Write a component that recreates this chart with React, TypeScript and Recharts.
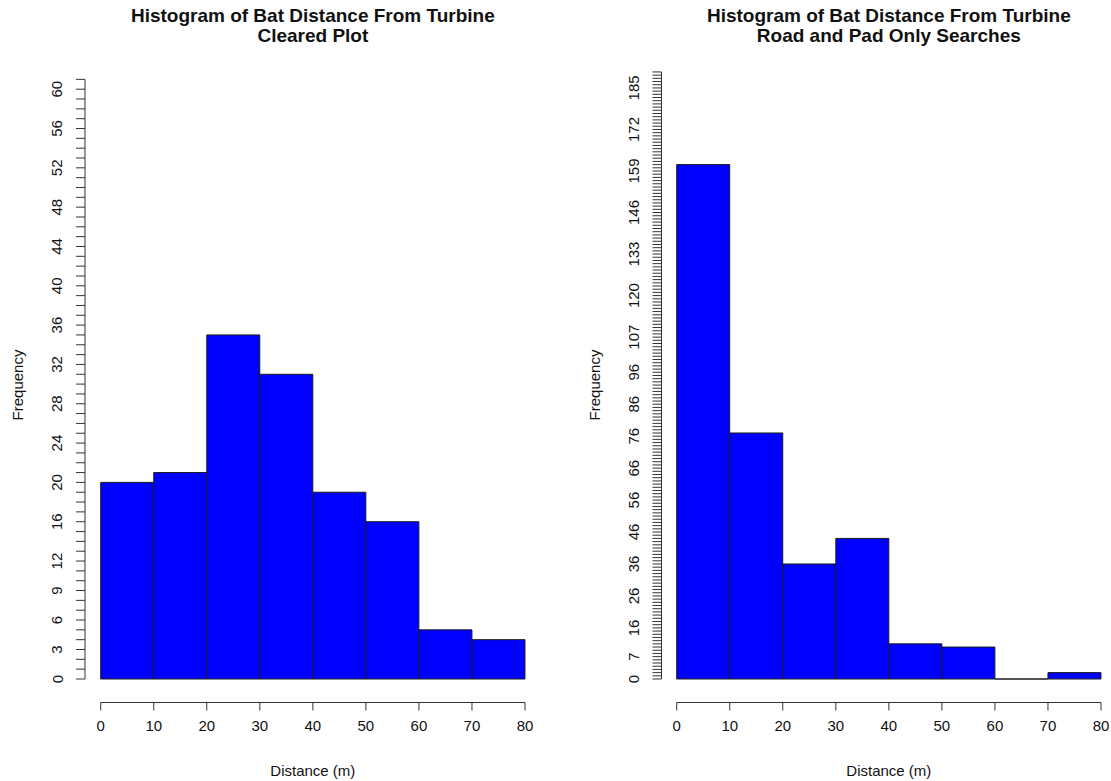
import React from "react";
import { Bar, ComposedChart, ReferenceLine, XAxis, YAxis } from "recharts";

// bins of 10 m, drawn at their centres on a numeric distance axis
const BIN_CENTERS = [5, 15, 25, 35, 45, 55, 65, 75];
const CLEARED_COUNTS = [20, 21, 35, 31, 19, 16, 5, 4];
const ROAD_PAD_COUNTS = [161, 77, 36, 44, 11, 10, 0, 2];

const X_TICKS = [0, 10, 20, 30, 40, 50, 60, 70, 80];
const CLEARED_Y_LABELS = [0, 3, 6, 9, 12, 16, 20, 24, 28, 32, 36, 40, 44, 48, 52, 56, 60];
const ROAD_PAD_Y_LABELS = [0, 7, 16, 26, 36, 46, 56, 66, 76, 86, 96, 107, 120, 133, 146, 159, 172, 185];

const TITLE = "Histogram of Bat Distance From Turbine";
const FONT = '"Liberation Sans", Arial, Helvetica, sans-serif';
const H = 781;
const Y_AXIS_W = 50;
const X_AXIS_H = 40;

type Panel = {
  subtitle: string;
  counts: number[];
  yLabels: number[];
  topTick: number;
  left: number; // panel left on page
  width: number;
  axisX: number; // y axis line on page
  x0: number; // pixel of distance 0
  x80: number; // pixel of distance 80
  y0: number; // pixel of frequency 0
  pxPerY: number;
};

const PANELS: Panel[] = [
  {
    subtitle: "Cleared Plot",
    counts: CLEARED_COUNTS,
    yLabels: CLEARED_Y_LABELS,
    topTick: 61,
    left: 0,
    width: 555,
    axisX: 85,
    x0: 100.7,
    x80: 525,
    y0: 679,
    pxPerY: 9.83,
  },
  {
    subtitle: "Road and Pad Only Searches",
    counts: ROAD_PAD_COUNTS,
    yLabels: ROAD_PAD_Y_LABELS,
    topTick: 190,
    left: 555,
    width: 556,
    axisX: 661.5,
    x0: 676.7,
    x80: 1101,
    y0: 679,
    pxPerY: 3.195,
  },
];

const X_AXIS_Y = 702.5;
const PLOT_TOP = 60;

function BinShape(props: any) {
  const { x, y, width, height } = props;
  if (x == null || width == null) return <g />;
  const h = height || 0;
  return (
    <path
      d={`M${x},${y}h${width}v${h}h${-width}Z`}
      fill="#0000ff"
      stroke="#1a1a1a"
      strokeWidth={1}
    />
  );
}

function HistPanel({ p }: { p: Panel }) {
  const sx = (p.x80 - p.x0) / 80;
  const plotRight = p.x80 + 6;
  const xMin = (p.axisX - p.x0) / sx;
  const xMax = (plotRight - p.x0) / sx;
  const yMin = -(X_AXIS_Y - p.y0) / p.pxPerY;
  const yMax = (p.y0 - PLOT_TOP) / p.pxPerY;

  const data = BIN_CENTERS.map((c, i) => ({ mid: c, count: p.counts[i] }));
  const yTicks = Array.from({ length: p.topTick + 1 }, (_, i) => i);
  const labelSet = new Set(p.yLabels);
  const labelX = p.axisX - p.left - 28;

  const renderYTick = (props: any) => {
    const v = props.payload?.value;
    if (!labelSet.has(v)) return <g />;
    const y = props.y;
    return (
      <text
        x={labelX}
        y={y}
        transform={`rotate(-90, ${labelX}, ${y})`}
        textAnchor="middle"
        dominantBaseline="central"
        fontSize={15}
        fontFamily={FONT}
        fill="#111"
      >
        {v}
      </text>
    );
  };

  const center = (p.x0 + p.x80) / 2 - p.left;

  return (
    <div style={{ position: "absolute", left: p.left, top: 0, width: p.width, height: H }}>
      <ComposedChart
        width={p.width}
        height={H}
        data={data}
        barCategoryGap={0}
        barGap={0}
        margin={{
          top: PLOT_TOP,
          left: p.axisX - p.left - Y_AXIS_W,
          right: p.left + p.width - plotRight,
          bottom: H - X_AXIS_Y - X_AXIS_H,
        }}
      >
        <XAxis
          dataKey="mid"
          type="number"
          domain={[xMin, xMax]}
          ticks={X_TICKS}
          interval={0}
          axisLine={false}
          tickSize={8}
          tickMargin={10}
          height={X_AXIS_H}
          tickLine={{ stroke: "#333" }}
          tick={{ fontSize: 15, fill: "#111", fontFamily: FONT }}
          allowDataOverflow
        />
        <YAxis
          type="number"
          domain={[yMin, yMax]}
          ticks={yTicks}
          interval={0}
          axisLine={false}
          tickSize={9}
          width={Y_AXIS_W}
          tickLine={{ stroke: "#333" }}
          tick={renderYTick}
          allowDataOverflow
        />
        <ReferenceLine
          segment={[
            { x: 0, y: yMin },
            { x: 80, y: yMin },
          ]}
          stroke="#333"
          ifOverflow="visible"
        />
        <ReferenceLine
          segment={[
            { x: xMin, y: 0 },
            { x: xMin, y: p.topTick },
          ]}
          stroke="#333"
          ifOverflow="visible"
        />
        <Bar dataKey="count" shape={BinShape} isAnimationActive={false} />
      </ComposedChart>

      <div
        style={{
          position: "absolute",
          left: center - 250,
          width: 500,
          top: 6,
          textAlign: "center",
          fontFamily: FONT,
          fontWeight: "bold",
          fontSize: 19,
          lineHeight: "20px",
          color: "#111",
        }}
      >
        {TITLE}
        <br />
        {p.subtitle}
      </div>
      <div
        style={{
          position: "absolute",
          left: center - 100,
          width: 200,
          top: 771 - 9,
          lineHeight: "18px",
          textAlign: "center",
          fontFamily: FONT,
          fontSize: 15,
          color: "#111",
        }}
      >
        Distance (m)
      </div>
      <div
        style={{
          position: "absolute",
          left: p.axisX - p.left - 67 - 100,
          top: 385 - 9,
          width: 200,
          lineHeight: "18px",
          textAlign: "center",
          fontFamily: FONT,
          fontSize: 15,
          color: "#111",
          transform: "rotate(-90deg)",
        }}
      >
        Frequency
      </div>
    </div>
  );
}

export default function App() {
  return (
    <div
      style={{
        position: "absolute",
        left: 0,
        top: 0,
        width: 1111,
        height: H,
        background: "#fff",
        overflow: "hidden",
      }}
    >
      {PANELS.map((p) => (
        <HistPanel key={p.subtitle} p={p} />
      ))}
    </div>
  );
}
